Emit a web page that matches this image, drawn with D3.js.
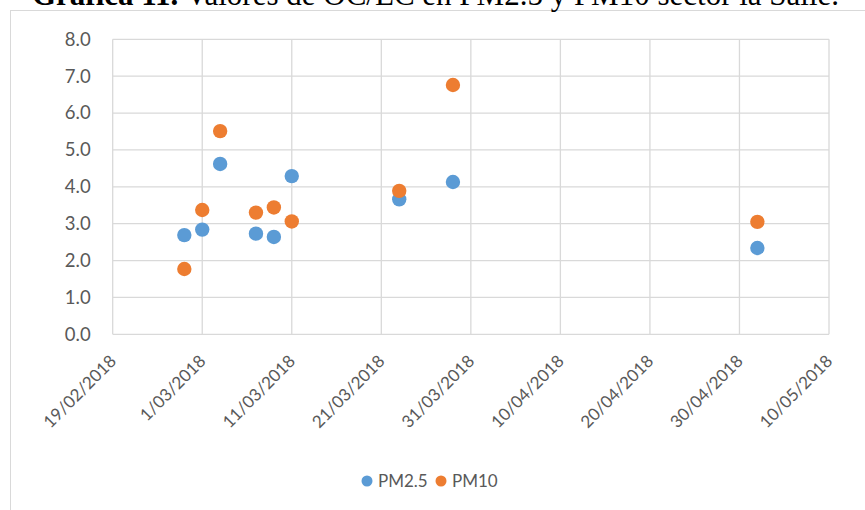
<!DOCTYPE html>
<html>
<head>
<meta charset="utf-8">
<script src="https://cdn.jsdelivr.net/npm/d3@7"></script>
<style>
  html, body { margin: 0; padding: 0; background: #fff; }
  svg { display: block; }
</style>
</head>
<body>
<svg id="chart" width="865" height="510"></svg>
<script>
// ---- data ----
const dates = ["2018-02-27","2018-03-01","2018-03-03","2018-03-07","2018-03-09","2018-03-11","2018-03-23","2018-03-29","2018-05-02"];
const pm25 = [2.69, 2.84, 4.62, 2.73, 2.64, 4.29, 3.66, 4.13, 2.34];
const pm10 = [1.77, 3.37, 5.51, 3.30, 3.44, 3.06, 3.89, 6.76, 3.05];
const xTickDates = ["2018-02-19","2018-03-01","2018-03-11","2018-03-21","2018-03-31","2018-04-10","2018-04-20","2018-04-30","2018-05-10"];
const yTicks = [0,1,2,3,4,5,6,7,8];
const seriesNames = ["PM2.5", "PM10"];
const seriesColors = ["#5B9BD5", "#ED7D31"];
const titleBold = "Gráfica 11.";
const titleRest = " Valores de OC/EC en PM2.5 y PM10 sector la Salle.";

(function () {
const parse = d3.timeParse("%Y-%m-%d");
const fmt = d3.timeFormat("%-d/%m/%Y");
const svg = d3.select("#chart");
const font = "Lato, 'Open Sans', sans-serif";

// chart area border
svg.append("rect").attr("x", 10.5).attr("y", 10.5).attr("width", 900).attr("height", 600)
  .attr("fill", "#fff").attr("stroke", "#D9D9D9").attr("stroke-width", 1);

// title (cut at top in the reference)
const t = svg.append("text").attr("x", 32).attr("y", 4.5)
  .attr("font-family", "'Liberation Serif', 'Times New Roman', serif").attr("font-size", 31).attr("fill", "#000");
t.append("tspan").attr("font-weight", "bold").text(titleBold);
t.append("tspan").text(titleRest);

const pLeft = 112.7, pRight = 829, pTop = 39.3, pBottom = 334.3;
const x = d3.scaleTime().domain([parse(xTickDates[0]), parse(xTickDates[xTickDates.length - 1])]).range([pLeft, pRight]);
const y = d3.scaleLinear().domain([0, 8]).range([pBottom, pTop]);

// gridlines
const g = svg.append("g");
g.selectAll(".hg").data(yTicks).join("line")
  .attr("x1", pLeft).attr("x2", pRight).attr("y1", d => y(d)).attr("y2", d => y(d))
  .attr("stroke", "#D9D9D9").attr("stroke-width", 1.3);
g.selectAll(".vg").data(xTickDates).join("line")
  .attr("x1", d => x(parse(d))).attr("x2", d => x(parse(d)))
  .attr("y1", pTop).attr("y2", pBottom)
  .attr("stroke", "#D9D9D9").attr("stroke-width", 1.3);

// y axis labels
const yAxis = d3.axisLeft(y).tickValues(yTicks).tickFormat(d3.format(".1f")).tickSize(0).tickPadding(22);
const ya = svg.append("g").attr("transform", `translate(${pLeft},0)`).call(yAxis);
ya.select(".domain").remove();
ya.selectAll("text").attr("font-family", font).attr("font-size", 18.5).attr("fill", "#595959");

// x axis labels
const xAxis = d3.axisBottom(x).tickValues(xTickDates.map(parse)).tickFormat(fmt).tickSize(0);
const xa = svg.append("g").attr("transform", `translate(0,${pBottom})`).call(xAxis);
xa.select(".domain").remove();
xa.selectAll("text")
  .attr("font-family", font).attr("font-size", 17).attr("fill", "#595959")
  .attr("text-anchor", "end").attr("dy", 0).attr("y", 0)
  .attr("transform", "translate(4,28) rotate(-45)");

// points
const series = [pm25, pm10];
series.forEach((vals, i) => {
  svg.append("g").selectAll("circle").data(vals).join("circle")
    .attr("cx", (d, j) => x(parse(dates[j])))
    .attr("cy", d => y(d))
    .attr("r", 7.2)
    .attr("fill", seriesColors[i]);
});

// legend
const legend = svg.append("g").attr("transform", "translate(0,481)");
const lx = [367, 441];
seriesNames.forEach((n, i) => {
  legend.append("circle").attr("cx", lx[i]).attr("cy", 0).attr("r", 5.5).attr("fill", seriesColors[i]);
  legend.append("text").attr("x", lx[i] + 11).attr("y", 6).attr("font-family", font)
    .attr("font-size", 17).attr("fill", "#595959").text(n);
});
})();
</script>
</body>
</html>
